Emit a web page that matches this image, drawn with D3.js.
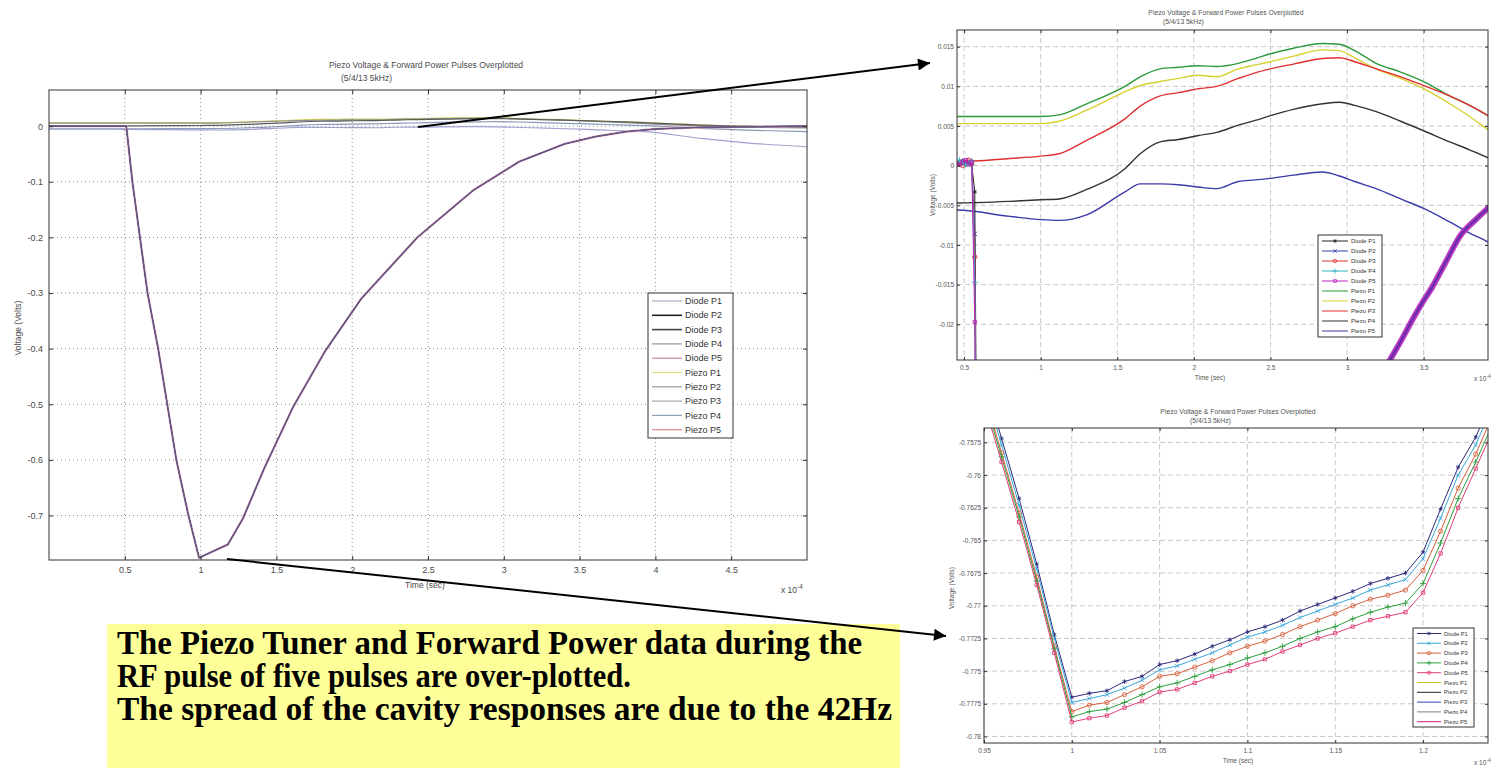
<!DOCTYPE html>
<html>
<head>
<meta charset="utf-8">
<script src="https://cdn.jsdelivr.net/npm/d3@7"></script>
<style>
  html, body { margin: 0; padding: 0; background: #fff; }
  svg { display: block; }
</style>
</head>
<body>
<svg id="fig" width="1493" height="768"></svg>
<script>
// ---------------- data (time in units of 1e-4 s, voltage in volts) ----------------
const seriesNames = ["Diode P1", "Diode P2", "Diode P3", "Diode P4", "Diode P5",
                     "Piezo P1", "Piezo P2", "Piezo P3", "Piezo P4", "Piezo P5"];

// Overview panel
const mainXTicks = [0.5, 1, 1.5, 2, 2.5, 3, 3.5, 4, 4.5];
const mainYTicks = [0, -0.1, -0.2, -0.3, -0.4, -0.5, -0.6, -0.7];
// forward-power diode pulse (all five pulses coincide at this scale)
const diodeT = [0, 0.51, 0.55, 0.60, 0.65, 0.72, 0.78, 0.84, 0.92, 0.99, 1.18, 1.28, 1.42, 1.61, 1.82, 2.06, 2.43, 2.80, 3.10, 3.40, 3.60, 3.80, 4.00, 4.30, 5.00];
const diodeV = [0, 0, -0.10, -0.20, -0.30, -0.40, -0.50, -0.60, -0.70, -0.776, -0.752, -0.705, -0.615, -0.505, -0.405, -0.31, -0.20, -0.115, -0.064, -0.032, -0.019, -0.010, -0.005, -0.002, 0];

// piezo tuner voltage for the five pulses
const piezoT  = [0, 0.45, 0.80, 1.00, 1.12, 1.30, 1.55, 1.65, 1.78, 1.90, 2.03, 2.15, 2.29, 2.40, 2.50, 2.65, 2.84, 2.95, 3.05, 3.19, 3.35, 3.50, 3.67, 3.80, 3.93, 4.30, 4.60, 5.00];
const piezoP1 = [0.0062, 0.0062, 0.0062, 0.0062, 0.0064, 0.0078, 0.0100, 0.0112, 0.0122, 0.0124, 0.0126, 0.0125, 0.0129, 0.0135, 0.0141, 0.0148, 0.0154, 0.0153, 0.0145, 0.0129, 0.0118, 0.0106, 0.0088, 0.0076, 0.0062, 0.0020, 0.0000, -0.0020];
const piezoP2 = [0.0053, 0.0053, 0.0053, 0.0053, 0.0056, 0.0070, 0.0093, 0.0101, 0.0106, 0.0110, 0.0114, 0.0112, 0.0122, 0.0127, 0.0131, 0.0138, 0.0146, 0.0145, 0.0136, 0.0122, 0.0110, 0.0097, 0.0078, 0.0062, 0.0044, 0.0000, -0.0020, -0.0030];
const piezoP3 = [0.0005, 0.0005, 0.0009, 0.0012, 0.0015, 0.0032, 0.0059, 0.0075, 0.0088, 0.0092, 0.0097, 0.0100, 0.0110, 0.0117, 0.0122, 0.0128, 0.0135, 0.0136, 0.0131, 0.0122, 0.0112, 0.0101, 0.0088, 0.0076, 0.0062, 0.0020, 0.0000, -0.0020];
const piezoP4 = [-0.0047, -0.0047, -0.0045, -0.0043, -0.0042, -0.0030, -0.0004, 0.0015, 0.0030, 0.0033, 0.0038, 0.0042, 0.0051, 0.0057, 0.0063, 0.0071, 0.0078, 0.0080, 0.0076, 0.0068, 0.0056, 0.0044, 0.0030, 0.0020, 0.0009, -0.0040, -0.0070, -0.0100];
const piezoP5 = [-0.0056, -0.0056, -0.0064, -0.0068, -0.0069, -0.0062, -0.0033, -0.0023, -0.0023, -0.0024, -0.0027, -0.0029, -0.0020, -0.0018, -0.0016, -0.0012, -0.0008, -0.0013, -0.0020, -0.0029, -0.0042, -0.0054, -0.0071, -0.0085, -0.0098, -0.0220, -0.0300, -0.0370];

// Upper detail panel (around 0 V)
const topXTicks = [0.5, 1, 1.5, 2, 2.5, 3, 3.5];
const topYTicks = [0.015, 0.01, 0.005, 0, -0.005, -0.01, -0.015, -0.02];
const edgeT = [0.45, 0.47, 0.49, 0.51, 0.53, 0.55, 0.57, 0.59];
const edgeP1 = [0.0004, 0.0002, 0.0006, 0.0003, 0.0005, 0.0002, -0.0033, -0.060];
const edgeP2 = [0.0001, 0.0005, 0.0002, 0.0006, 0.0001, 0.0004, -0.0086, -0.070];
const edgeP3 = [0.0006, 0.0003, 0.0000, 0.0004, 0.0007, 0.0003, -0.0115, -0.070];
const edgeP4 = [0.0002, 0.0007, 0.0004, 0.0001, 0.0003, 0.0006, -0.0147, -0.080];
const edgeP5 = [0.0005, 0.0001, 0.0005, 0.0007, 0.0002, 0.0005, -0.0197, -0.080];
const recoverT = [3.22, 3.28, 3.36, 3.43, 3.50, 3.55, 3.64, 3.74, 3.84, 3.93];
const recoverV = [-0.0265, -0.0245, -0.0218, -0.0193, -0.0170, -0.0155, -0.0123, -0.0088, -0.0068, -0.0052];

// Lower detail panel (bottom of the forward power pulse)
const lowXTicks = [0.95, 1, 1.05, 1.1, 1.15, 1.2];
const lowYTicks = [-0.7575, -0.76, -0.7625, -0.765, -0.7675, -0.77, -0.7725, -0.775, -0.7775, -0.78];
const lowT = [0.95, 0.96, 0.97, 0.98, 0.99, 1.00, 1.01, 1.02, 1.03, 1.04, 1.05, 1.06, 1.07, 1.08, 1.09,
              1.10, 1.11, 1.12, 1.13, 1.14, 1.15, 1.16, 1.17, 1.18, 1.19, 1.20, 1.21, 1.22, 1.23, 1.24];
const lowP1 = [-0.7525, -0.7572, -0.7618, -0.7668, -0.7722, -0.7770, -0.7767, -0.7765, -0.7758, -0.7754, -0.7745, -0.7742, -0.7737, -0.7731, -0.7726,
               -0.7720, -0.7716, -0.7711, -0.7704, -0.7699, -0.7694, -0.7689, -0.7683, -0.7679, -0.7675, -0.7659, -0.7626, -0.7594, -0.7571, -0.7540];
const lowP2 = [-0.7530, -0.7577, -0.7623, -0.7672, -0.7725, -0.7774, -0.7771, -0.7768, -0.7763, -0.7757, -0.7749, -0.7746, -0.7741, -0.7736, -0.7730,
               -0.7724, -0.7720, -0.7715, -0.7709, -0.7704, -0.7699, -0.7694, -0.7688, -0.7684, -0.7680, -0.7664, -0.7633, -0.7600, -0.7577, -0.7546];
const lowP3 = [-0.7537, -0.7583, -0.7629, -0.7678, -0.7731, -0.7781, -0.7776, -0.7774, -0.7768, -0.7762, -0.7754, -0.7752, -0.7747, -0.7742, -0.7736,
               -0.7731, -0.7727, -0.7722, -0.7716, -0.7711, -0.7706, -0.7700, -0.7695, -0.7692, -0.7688, -0.7673, -0.7643, -0.7610, -0.7584, -0.7553];
const lowP4 = [-0.7541, -0.7586, -0.7632, -0.7681, -0.7733, -0.7785, -0.7781, -0.7779, -0.7774, -0.7768, -0.7762, -0.7759, -0.7754, -0.7749, -0.7745,
               -0.7740, -0.7736, -0.7731, -0.7725, -0.7720, -0.7716, -0.7710, -0.7705, -0.7701, -0.7698, -0.7683, -0.7652, -0.7618, -0.7590, -0.7560];
const lowP5 = [-0.7545, -0.7590, -0.7636, -0.7684, -0.7736, -0.7789, -0.7786, -0.7784, -0.7778, -0.7773, -0.7766, -0.7764, -0.7759, -0.7754, -0.7750,
               -0.7745, -0.7741, -0.7735, -0.7730, -0.7725, -0.7721, -0.7716, -0.7711, -0.7708, -0.7705, -0.7690, -0.7660, -0.7625, -0.7595, -0.7565];

const captionLines = [
  "The Piezo Tuner and Forward Power data during the",
  "RF pulse of five pulses are over-plotted.",
  "The spread of the cavity responses are due to the 42Hz"
];

// ---------------- drawing ----------------
const SANS = '"Liberation Sans", Arial, Helvetica, sans-serif';
const svg = d3.select("#fig");
const zip = (t, v) => t.map((d, i) => [d, v[i]]);
let clipId = 0;

function panel(o) {
  const g = svg.append("g");
  const x = d3.scaleLinear().domain(o.xDom).range([o.L, o.R]);
  const y = d3.scaleLinear().domain(o.yDom).range([o.B, o.T]);
  g.append("rect").attr("x", o.L).attr("y", o.T).attr("width", o.R - o.L).attr("height", o.B - o.T).attr("fill", "#fff");
  const grid = g.append("g").attr("stroke", o.gridColor).attr("stroke-width", 1).attr("stroke-dasharray", o.gridDash);
  grid.selectAll(".gx").data(o.xTicks).join("line").attr("class", "gx")
    .attr("x1", d => x(d)).attr("x2", d => x(d)).attr("y1", o.T).attr("y2", o.B);
  grid.selectAll(".gy").data(o.yTicks).join("line").attr("class", "gy")
    .attr("y1", d => y(d)).attr("y2", d => y(d)).attr("x1", o.L).attr("x2", o.R);

  const id = "clip" + (clipId++);
  g.append("clipPath").attr("id", id).append("rect")
    .attr("x", o.L).attr("y", o.T).attr("width", o.R - o.L).attr("height", o.B - o.T);
  const plot = g.append("g").attr("clip-path", `url(#${id})`);
  const axes = g.append("g");

  const style = s => {
    s.select(".domain").remove();
    s.attr("font-family", SANS).attr("font-size", o.fs);
    s.selectAll("text").attr("fill", o.textColor);
    s.selectAll("line").attr("stroke", "#333");
  };
  axes.append("g").attr("transform", `translate(0,${o.B})`)
    .call(d3.axisBottom(x).tickValues(o.xTicks).tickFormat(o.xFmt).tickSize(-o.tick).tickPadding(o.xPad)).call(style);
  axes.append("g").attr("transform", `translate(0,${o.T})`)
    .call(d3.axisTop(x).tickValues(o.xTicks).tickFormat("").tickSize(-o.tick)).call(style);
  axes.append("g").attr("transform", `translate(${o.L},0)`)
    .call(d3.axisLeft(y).tickValues(o.yTicks).tickFormat(o.yFmt).tickSize(-o.tick).tickPadding(o.yPad)).call(style);
  axes.append("g").attr("transform", `translate(${o.R},0)`)
    .call(d3.axisRight(y).tickValues(o.yTicks).tickFormat("").tickSize(-o.tick)).call(style);
  axes.append("rect").attr("x", o.L).attr("y", o.T).attr("width", o.R - o.L).attr("height", o.B - o.T)
    .attr("fill", "none").attr("stroke", "#333").attr("stroke-width", 1);

  // titles and labels
  const t = o.title;
  axes.append("text").attr("x", t.cx).attr("y", t.y1).attr("text-anchor", "middle")
    .attr("font-family", SANS).attr("font-size", t.fs).attr("fill", o.textColor).text(t.line1);
  axes.append("text").attr("x", t.x2).attr("y", t.y2)
    .attr("font-family", SANS).attr("font-size", t.fs).attr("fill", o.textColor).text(t.line2);
  axes.append("text").attr("transform", `translate(${o.yLab.x},${o.yLab.y}) rotate(-90)`).attr("text-anchor", "middle")
    .attr("font-family", SANS).attr("font-size", o.labFs).attr("fill", o.textColor).text("Voltage (Volts)");
  axes.append("text").attr("x", o.xLab.x).attr("y", o.xLab.y).attr("text-anchor", "middle")
    .attr("font-family", SANS).attr("font-size", o.labFs).attr("fill", o.textColor).text("Time (sec)");
  const ex = axes.append("text").attr("x", o.exp.x).attr("y", o.exp.y)
    .attr("font-family", SANS).attr("font-size", o.labFs).attr("fill", o.textColor);
  ex.append("tspan").text("x 10");
  ex.append("tspan").attr("dy", -o.labFs * 0.45).attr("font-size", o.labFs * 0.75).text("-4");
  return { g, x, y, plot, axes };
}

function drawLegend(parent, o) {
  const lg = parent.append("g");
  lg.append("rect").attr("x", o.x).attr("y", o.y).attr("width", o.w).attr("height", o.h)
    .attr("fill", "#fff").attr("stroke", "#333").attr("stroke-width", 1);
  o.entries.forEach((e, i) => {
    const yy = o.y + o.pad + i * o.step;
    lg.append("line").attr("x1", o.x + 4).attr("x2", o.x + 4 + o.lineLen).attr("y1", yy).attr("y2", yy)
      .attr("stroke", e.color).attr("stroke-width", e.width || 1);
    if (e.symbol) {
      lg.append("path").attr("transform", `translate(${o.x + 4 + o.lineLen / 2},${yy})`)
        .attr("d", d3.symbol().type(e.symbol).size(o.symSize)())
        .attr("fill", "none").attr("stroke", e.color).attr("stroke-width", 0.8);
    }
    lg.append("text").attr("x", o.x + 7 + o.lineLen).attr("y", yy).attr("dy", "0.35em")
      .attr("font-family", SANS).attr("font-size", o.fs).attr("fill", "#333").text(e.name);
  });
}

function drawSeries(p, pts, color, width, symbol, symSize, opacity, curve) {
  const line = d3.line().x(d => p.x(d[0])).y(d => p.y(d[1])).curve(curve || d3.curveLinear);
  p.plot.append("path").datum(pts).attr("d", line).attr("fill", "none")
    .attr("stroke", color).attr("stroke-width", width).attr("stroke-opacity", opacity == null ? 1 : opacity)
    .attr("stroke-linejoin", "round");
  if (symbol) {
    const dom = p.x.domain(), ydom = p.y.domain();
    p.plot.append("g").selectAll("path")
      .data(pts.filter(d => d[0] >= dom[0] && d[0] <= dom[1] && d[1] >= ydom[0] && d[1] <= ydom[1]))
      .join("path")
      .attr("transform", d => `translate(${p.x(d[0])},${p.y(d[1])})`)
      .attr("d", d3.symbol().type(symbol).size(symSize)())
      .attr("fill", "none").attr("stroke", color).attr("stroke-width", 0.9);
  }
}

const smooth = d3.curveMonotoneX;
const piezoSeries = [piezoP1, piezoP2, piezoP3, piezoP4, piezoP5];

// ---- overview panel ----
const trim = d => String(+d.toFixed(4));
const main = panel({
  L: 49, R: 807, T: 90, B: 560, xDom: [0, 5], yDom: [-0.78, 0.065],
  xTicks: mainXTicks, yTicks: mainYTicks, xFmt: trim, yFmt: trim,
  tick: 4, xPad: 7, yPad: 6, fs: 9, labFs: 8.5, textColor: "#4a4a4a",
  gridColor: "#8c8c8c", gridDash: "1,3",
  title: { cx: 426, y1: 68, x2: 341, y2: 81, fs: 8.5,
           line1: "Piezo Voltage & Forward Power Pulses Overplotted", line2: "(5/4/13 5kHz)" },
  yLab: { x: 21, y: 328 }, xLab: { x: 425, y: 588 }, exp: { x: 781, y: 593 }
});
const mainPiezoColors = ["#d6d65a", "#8f8f8f", "#5a5a5a", "#8a9ab8", "#a0a0d0"];
const mainDiodeColors = ["#a8b0c8", "#222222", "#444444", "#8a9a90", "#c98aa0"];
piezoSeries.forEach((v, i) => drawSeries(main, zip(piezoT, v), mainPiezoColors[i], 1.2, null, 0, 1, smooth));
drawSeries(main, zip(diodeT, diodeV), "#e4a8b8", 2.4);
[0, 1, 2, 3].forEach(() => drawSeries(main, zip(diodeT, diodeV), "#4a4a7a", 1.1, null, 0, 0.55));
drawSeries(main, zip(diodeT, diodeV), "#6a5a8a", 1.0, null, 0, 0.8);
drawLegend(main.axes, {
  x: 648, y: 293, w: 85, h: 145, pad: 8, step: 14.3, lineLen: 30, fs: 9, symSize: 10,
  entries: seriesNames.map((n, i) => ({ name: n,
    color: i < 5 ? mainDiodeColors[i] : ["#e0e080", "#9a9a9a", "#a8a8a8", "#8fa0b8", "#e08a8a"][i - 5],
    width: i === 1 || i === 2 ? 1.6 : 1.2 }))
});

// ---- upper detail panel ----
const upper = panel({
  L: 957, R: 1488, T: 30, B: 360, xDom: [0.454, 3.92], yDom: [-0.0245, 0.0171],
  xTicks: topXTicks, yTicks: topYTicks, xFmt: trim, yFmt: trim,
  tick: 3, xPad: 5, yPad: 3, fs: 6.5, labFs: 6.5, textColor: "#555",
  gridColor: "#c8c8c8", gridDash: "5,3",
  title: { cx: 1226, y1: 15, x2: 1163, y2: 24, fs: 6.8,
           line1: "Piezo Voltage & Forward Power Pulses Overplotted", line2: "(5/4/13 5kHz)" },
  yLab: { x: 935, y: 195 }, xLab: { x: 1210, y: 380 }, exp: { x: 1474, y: 381 }
});
const upperPiezoColors = ["#2a9a3a", "#d8d030", "#e03030", "#333333", "#3a3aa8"];
const diodeSymbols = [d3.symbolAsterisk, d3.symbolTimes, d3.symbolCircle, d3.symbolPlus, d3.symbolSquare2];
const upperDiodeColors = ["#222222", "#3040b0", "#e03030", "#30b0c0", "#c020c0"];
piezoSeries.forEach((v, i) => drawSeries(upper, zip(piezoT, v), upperPiezoColors[i], 1.4, null, 0, 1, smooth));
[edgeP1, edgeP2, edgeP3, edgeP4, edgeP5].forEach((v, i) =>
  drawSeries(upper, zip(edgeT, v), upperDiodeColors[i], 1, diodeSymbols[i], 14));
[0, 1, 2, 3].forEach(i => drawSeries(upper, zip(recoverT, recoverV), upperDiodeColors[i], 3, null, 0, 1, smooth));
drawSeries(upper, zip(recoverT, recoverV), "#b020c0", 6, null, 0, 0.85, smooth);
drawSeries(upper, zip(recoverT, recoverV), "#5a2aa0", 1.5, null, 0, 0.9, smooth);
drawLegend(upper.axes, {
  x: 1318, y: 235, w: 64, h: 102, pad: 6, step: 10, lineLen: 26, fs: 6, symSize: 10,
  entries: seriesNames.map((n, i) => ({ name: n,
    color: i < 5 ? upperDiodeColors[i] : upperPiezoColors[i - 5],
    symbol: i < 5 ? diodeSymbols[i] : null }))
});

// ---- lower detail panel ----
const lower = panel({
  L: 984, R: 1488, T: 428, B: 743, xDom: [0.95, 1.237], yDom: [-0.7805, -0.7564],
  xTicks: lowXTicks, yTicks: lowYTicks, xFmt: trim, yFmt: trim,
  tick: 3, xPad: 5, yPad: 3, fs: 6.5, labFs: 6.5, textColor: "#555",
  gridColor: "#c8c8c8", gridDash: "5,3",
  title: { cx: 1238, y1: 414, x2: 1190, y2: 423, fs: 6.8,
           line1: "Piezo Voltage & Forward Power Pulses Overplotted", line2: "(5/4/13 5kHz)" },
  yLab: { x: 954, y: 588 }, xLab: { x: 1238, y: 763 }, exp: { x: 1474, y: 765 }
});
const lowerDiodeColors = ["#2b2b7a", "#3aa8d8", "#d8603a", "#2e9e3e", "#e0407a"];
[lowP1, lowP2, lowP3, lowP4, lowP5].forEach((v, i) =>
  drawSeries(lower, zip(lowT, v), lowerDiodeColors[i], 1, diodeSymbols[i], 14));
drawLegend(lower.axes, {
  x: 1413, y: 628, w: 61, h: 99, pad: 5.5, step: 9.8, lineLen: 24, fs: 5.8, symSize: 9,
  entries: seriesNames.map((n, i) => ({ name: n,
    color: i < 5 ? lowerDiodeColors[i] : ["#c8c020", "#222222", "#3040b0", "#808080", "#c02080"][i - 5],
    symbol: i < 5 ? diodeSymbols[i] : null }))
});

// ---- caption box ----
const cap = svg.append("g");
cap.append("rect").attr("x", 107).attr("y", 624).attr("width", 793).attr("height", 144).attr("fill", "#ffff99");
const capLen = [745, 514, 775];
captionLines.forEach((s, i) => {
  cap.append("text").attr("x", 117).attr("y", 654 + i * 33)
    .attr("font-family", '"Liberation Serif", "Times New Roman", Times, serif').attr("font-weight", "bold")
    .attr("font-size", 33).attr("fill", "#000")
    .attr("textLength", capLen[i]).attr("lengthAdjust", "spacingAndGlyphs").text(s);
});

// ---- call-out arrows linking overview to detail panels ----
const defs = svg.append("defs");
defs.append("marker").attr("id", "arrowhead").attr("viewBox", "0 0 10 10")
  .attr("refX", 10).attr("refY", 5).attr("markerWidth", 7.5).attr("markerHeight", 6)
  .attr("markerUnits", "strokeWidth").attr("orient", "auto")
  .append("path").attr("d", "M0,0 L10,5 L0,10 z").attr("fill", "#000");
const callouts = [
  { from: [418, 127], to: [930, 63] },
  { from: [227, 559], to: [946, 636] }
];
svg.append("g").selectAll("line").data(callouts).join("line")
  .attr("x1", d => d.from[0]).attr("y1", d => d.from[1])
  .attr("x2", d => d.to[0]).attr("y2", d => d.to[1])
  .attr("stroke", "#000").attr("stroke-width", 2).attr("marker-end", "url(#arrowhead)");
</script>
</body>
</html>
